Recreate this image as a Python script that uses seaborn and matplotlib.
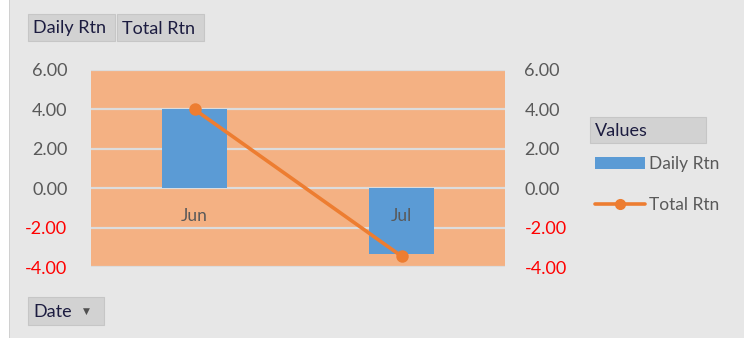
import matplotlib
matplotlib.use("Agg")
import matplotlib.pyplot as plt
import numpy as np
import pandas as pd
import seaborn as sns
from matplotlib.patches import Rectangle, Patch
from matplotlib.lines import Line2D
from matplotlib.ticker import FuncFormatter

# data
dates = ["Jun", "Jul"]
daily_rtn = [4.00, -3.35]
total_rtn = [4.00, -3.45]
y_ticks = [-4, -2, 0, 2, 4, 6]

df = pd.DataFrame({"Date": dates, "Daily Rtn": daily_rtn, "Total Rtn": total_rtn})

sns.set_theme(style="white")
plt.rcParams["font.family"] = ["Lato", "DejaVu Sans"]

BLUE = "#5b9bd5"
ORANGE = "#ed7d31"
TXT = "#595959"

fig = plt.figure(figsize=(7.44, 3.38), dpi=100, facecolor="#e7e7e7")
W, H = 744, 338

def fx(px):
    return px / W

def fy(py):
    return 1 - py / H

ax = fig.add_axes([fx(91), fy(267), fx(505) - fx(91), fy(70) - fy(267)])
ax.set_facecolor("#f4b183")

sns.barplot(data=df, x="Date", y="Daily Rtn", color=BLUE, saturation=1,
            width=0.315, ax=ax, zorder=2, linewidth=0, edgecolor="none")
sns.pointplot(data=df, x="Date", y="Total Rtn", color=ORANGE, markers="o",
              linestyles="-", markersize=7, linewidth=2.6, ax=ax, zorder=4)

ax.set_xlim(-0.5, 1.5)
ax.set_ylim(-4, 6)
ax.set_yticks(y_ticks)
ax.yaxis.grid(True, color="#dcdcdc", linewidth=1.6)
ax.set_axisbelow(True)
ax.xaxis.set_zorder(3)  # month labels sit on top of the bars
ax.set_xlabel("")
ax.set_ylabel("")
for s in ax.spines.values():
    s.set_visible(False)
ax.spines["bottom"].set_position(("data", 0))
ax.tick_params(axis="x", length=0, pad=14, labelsize=12.5, labelcolor=TXT)
ax.tick_params(axis="y", length=0, pad=17, labelsize=13)

fmt = FuncFormatter(lambda v, p: f"{v:.2f}")
ax.yaxis.set_major_formatter(fmt)

ax2 = ax.twinx()
ax2.set_ylim(-4, 6)
ax2.set_yticks(y_ticks)
ax2.yaxis.set_major_formatter(fmt)
ax2.tick_params(axis="y", length=0, pad=14, labelsize=13)
for s in ax2.spines.values():
    s.set_visible(False)
ax2.grid(False)

fig.canvas.draw()
for a in (ax, ax2):
    for lab in a.get_yticklabels():
        lab.set_color("#ff0000" if lab.get_text().startswith("-") else TXT)

# white strip at the far left
fig.patches.append(Rectangle((0, 0), fx(9), 1, transform=fig.transFigure,
                             facecolor="white", edgecolor="none"))
fig.patches.append(Rectangle((fx(9), 0), fx(1), 1, transform=fig.transFigure,
                             facecolor="#d0d0d0", edgecolor="none"))

def button(x0, y0, x1, y1, text, size=13):
    fig.patches.append(Rectangle((fx(x0), fy(y1)), fx(x1) - fx(x0), fy(y0) - fy(y1),
                                 transform=fig.transFigure, facecolor="#d2d2d2",
                                 edgecolor="#c6c6c6", linewidth=0.8))
    fig.text(fx(x0 + 5), fy((y0 + y1) / 2 + 1), text, ha="left", va="center",
             fontsize=size, color="#1c1c40")

button(28, 14, 115, 41, "Daily Rtn")
button(117, 14, 204, 41, "Total Rtn")
button(28, 297, 104, 325, "Date")
fig.text(fx(83), fy(311), "\u25bc", ha="left", va="center", fontsize=6.5,
         color="#505050", family="DejaVu Sans")
button(590, 117, 706, 143, "Values")

handles = [Patch(facecolor=BLUE, edgecolor="none"),
           Line2D([], [], color=ORANGE, linewidth=2.6, marker="o", markersize=7)]
fig.legend(handles, ["Daily Rtn", "Total Rtn"], loc="upper left",
           bbox_to_anchor=(fx(595), fy(156)), frameon=False, fontsize=12.5,
           labelcolor=TXT, handlelength=2.9, handletextpad=0.2,
           labelspacing=1.45, borderpad=0, borderaxespad=0)

fig.savefig("out.png", dpi=100, facecolor=fig.get_facecolor())
